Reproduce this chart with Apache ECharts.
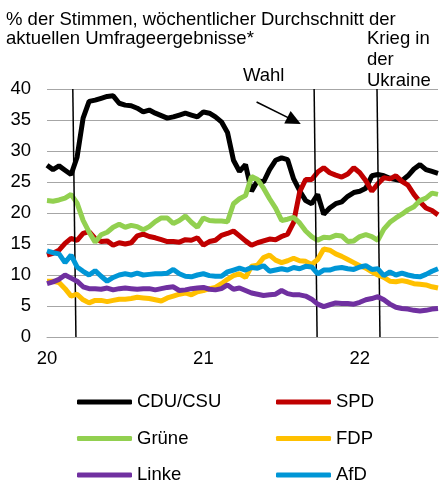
<!DOCTYPE html>
<html>
<head>
<meta charset="utf-8">
<script src="https://cdn.jsdelivr.net/npm/echarts@6/dist/echarts.min.js"></script>
<style>
  html, body { margin: 0; padding: 0; background: #fff; }
  #chart { width: 441px; height: 485px; }
</style>
</head>
<body>
<div id="chart"></div>
<script>
// weekly averages sampled every two weeks, from Jan 2020 to end of June 2022
const startYear = 2020;
const stepYears = 1 / 26;

const cdu = [27.7, 27.0, 27.6, 26.9, 26.2, 29.0, 35.3, 38.0, 38.2, 38.5, 38.8, 38.9, 37.7, 37.4, 37.3, 36.9,
  36.3, 36.6, 36.1, 35.7, 35.3, 35.5, 35.8, 36.1, 35.8, 35.5, 36.3, 36.1, 35.5, 34.7, 33.0, 28.5,
  26.7, 27.8, 23.5, 25.2, 25.0, 27.0, 28.5, 28.9, 28.6, 25.5, 23.6, 22.0, 21.5, 23.0, 19.8, 20.8,
  21.5, 21.8, 22.7, 23.3, 23.5, 24.0, 26.0, 26.2, 26.0, 25.6, 25.4, 25.2, 26.0, 27.1, 27.8, 27.0,
  26.7, 26.4];
const spd = [13.2, 13.5, 14.0, 15.1, 15.9, 15.6, 16.7, 17.0, 15.9, 15.4, 15.5, 14.8, 15.2, 15.0, 15.2, 16.3,
  16.6, 16.2, 16.0, 15.7, 15.4, 15.4, 15.3, 15.7, 15.6, 16.0, 14.8, 15.4, 15.6, 16.4, 16.7, 17.1,
  16.3, 15.5, 14.8, 15.2, 15.5, 15.8, 15.7, 16.2, 16.6, 18.5, 23.4, 25.4, 25.4, 26.6, 27.3, 26.5,
  26.1, 25.8, 26.3, 27.3, 26.5, 25.2, 23.5, 24.7, 25.7, 25.5, 26.0, 25.1, 24.5, 23.0, 21.8, 20.8,
  20.4, 19.7];
const gruene = [22.0, 21.9, 22.1, 22.4, 23.0, 21.6, 18.8, 16.9, 15.3, 16.5, 16.9, 17.7, 18.2, 17.7, 18.0, 17.8,
  17.3, 17.8, 18.6, 19.2, 19.2, 18.3, 18.8, 19.5, 18.5, 17.7, 19.2, 18.8, 18.7, 18.7, 18.6, 21.5,
  22.3, 22.8, 25.9, 25.4, 24.0, 22.3, 20.8, 18.8, 19.0, 19.3, 18.4, 17.1, 16.2, 15.6, 16.1, 16.0,
  16.4, 16.3, 15.4, 15.5, 16.2, 16.5, 16.2, 15.6, 17.4, 18.5, 19.2, 19.8, 20.5, 21.0, 22.0, 22.4,
  23.2, 23.0];
const fdp = [9.0, 9.0, 8.8, 7.8, 6.6, 6.9, 6.0, 5.5, 5.9, 5.9, 5.7, 5.9, 6.1, 6.1, 6.2, 6.4,
  6.3, 6.2, 6.0, 5.8, 6.3, 6.6, 6.9, 7.1, 6.8, 7.3, 7.5, 7.8, 8.0, 8.6, 9.3, 9.9,
  10.2, 9.6, 11.4, 11.6, 12.8, 13.2, 12.4, 12.0, 12.3, 12.7, 12.3, 12.2, 11.7, 12.5, 14.2, 14.0,
  13.4, 13.0, 12.5, 12.0, 11.5, 11.1, 10.5, 10.0, 9.6, 9.0, 8.9, 9.1, 8.9, 8.6, 8.5, 8.4,
  8.1, 7.9];
const linke = [8.6, 8.9, 9.3, 10.0, 9.5, 9.0, 8.1, 7.8, 7.8, 7.7, 7.9, 7.6, 7.8, 7.9, 7.8, 7.7,
  7.8, 7.8, 7.6, 7.8, 8.0, 8.1, 7.5, 7.6, 7.8, 7.9, 8.0, 7.7, 7.6, 7.8, 8.4, 7.7,
  7.9, 7.5, 7.1, 6.9, 6.7, 6.8, 6.9, 7.5, 7.0, 6.8, 6.8, 6.6, 6.1, 5.3, 4.9, 5.2,
  5.5, 5.4, 5.4, 5.3, 5.6, 6.0, 6.2, 6.5, 6.0, 5.3, 4.8, 4.6, 4.5, 4.3, 4.2, 4.3,
  4.5, 4.6];
const afd = [13.9, 13.6, 13.4, 12.0, 13.2, 11.3, 10.6, 10.0, 10.7, 9.8, 9.0, 9.6, 10.0, 10.2, 10.0, 10.3,
  10.0, 10.1, 10.2, 10.2, 10.3, 10.9, 10.2, 9.8, 9.7, 10.0, 10.2, 9.9, 9.8, 9.8, 10.5, 10.8,
  11.1, 10.8, 11.2, 11.1, 11.5, 10.6, 10.8, 11.0, 10.8, 11.2, 11.0, 11.4, 11.3, 10.2, 10.8, 10.8,
  11.1, 11.2, 11.0, 10.9, 11.3, 11.5, 10.9, 11.0, 9.9, 10.5, 10.0, 10.3, 10.0, 9.8, 9.7, 10.1,
  10.6, 11.0];

const parties = ["CDU/CSU", "SPD", "Grüne", "FDP", "Linke", "AfD"];
const colors = ["#000000", "#c00000", "#92d050", "#ffc000", "#7030a0", "#0096d6"];
const values = [cdu, spd, gruene, fdp, linke, afd];

// events: [year at top of chart, year at bottom] (the lines lean a little)
const corona = [2020.165, 2020.185];
const wahl = [2021.708, 2021.727];
const ukraine = [2022.11, 2022.129];
const arrowFrom = [2021.34, 37.9];
const arrowTo = [2021.58, 34.9];

const yTicks = [0, 5, 10, 15, 20, 25, 30, 35, 40];

const font = "'Liberation Sans', Arial, sans-serif";
const fs = 18.5;

const chart = echarts.init(document.getElementById("chart"));

const series = parties.map((name, k) => ({
    name: name,
    type: "line",
    showSymbol: false,
    symbol: "none",
    data: values[k].map((v, i) => [startYear + i * stepYears, v]),
    lineStyle: {color: colors[k], width: 5},
    itemStyle: {color: colors[k]},
    z: 2 + k,
    animation: false,
}));

function eventLine(ev) {
    return [{coord: [ev[0], yTicks[yTicks.length - 1]]}, {coord: [ev[1], yTicks[0]]}];
}

series.push({
    name: "events",
    type: "line",
    data: [],
    z: 20,
    animation: false,
    markLine: {
        silent: true,
        animation: false,
        symbol: ["none", "none"],
        label: {show: false},
        lineStyle: {color: "#000", width: 1.5, type: "solid"},
        data: [
            eventLine(corona),
            eventLine(wahl),
            eventLine(ukraine),
            [
                {coord: arrowFrom, symbol: "none"},
                {coord: arrowTo, symbol: "triangle", symbolSize: [14, 15], symbolRotate: -117},
            ],
        ],
    },
});

const legendCommon = {
    orient: "vertical",
    icon: "roundRect",
    itemWidth: 55,
    itemHeight: 5,
    itemGap: 16.5,
    padding: 0,
    height: 140,
    textStyle: {fontFamily: font, fontSize: fs, color: "#000", lineHeight: 20},
    selectedMode: false,
};

chart.setOption({
    animation: false,
    title: {
        text: "% der Stimmen, wöchentlicher Durchschnitt der\naktuellen Umfrageergebnisse*",
        left: 6,
        top: 10,
        padding: 0,
        textStyle: {fontFamily: font, fontSize: fs, fontWeight: "normal", color: "#000", lineHeight: 19},
    },
    graphic: [
        {
            type: "text", left: 243, top: 65,
            style: {text: "Wahl", font: fs + "px " + font, fill: "#000", lineHeight: 21},
        },
        {
            type: "text", left: 367, top: 28,
            style: {text: "Krieg in\nder\nUkraine", font: fs + "px " + font, fill: "#000", lineHeight: 21},
        },
    ],
    grid: {left: 47, right: 0, top: 89, bottom: 148, containLabel: false},
    xAxis: {
        type: "value",
        min: 2020,
        max: 2022.5,
        interval: 1,
        axisLine: {show: true, lineStyle: {color: "#a6a6a6", width: 1}},
        axisTick: {show: false},
        splitLine: {show: false},
        axisLabel: {
            fontFamily: font, fontSize: fs, color: "#000", margin: 12,
            formatter: (v) => (Number.isInteger(v) ? String(v).slice(2) : ""),
        },
    },
    yAxis: {
        type: "value",
        min: yTicks[0],
        max: yTicks[yTicks.length - 1],
        interval: 5,
        axisLine: {show: false},
        axisTick: {show: false},
        splitLine: {lineStyle: {color: "#a6a6a6", width: 1}},
        axisLabel: {fontFamily: font, fontSize: fs, color: "#000", margin: 16},
    },
    legend: [
        Object.assign({left: 77, top: 392, data: ["CDU/CSU", "Grüne", "Linke"]}, legendCommon),
        Object.assign({left: 276, top: 392, data: ["SPD", "FDP", "AfD"]}, legendCommon),
    ],
    series: series,
});
</script>
</body>
</html>
